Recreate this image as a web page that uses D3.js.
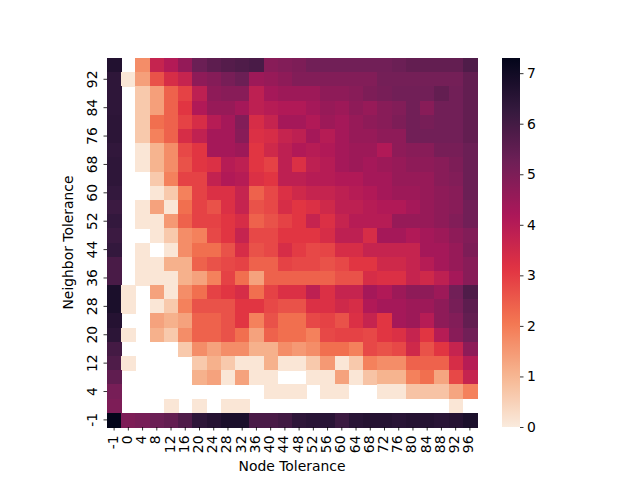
<!DOCTYPE html>
<html>
<head>
<meta charset="utf-8">
<script src="https://cdn.jsdelivr.net/npm/d3@7"></script>
<style>
    body { margin: 0; background: #fff; }
    text { font-family: "DejaVu Sans", sans-serif; fill: #000; }
</style>
</head>
<body>
<svg id="chart" width="640" height="480"></svg>
<script>
const nodeTolerance = [-1, 0, 4, 8, 12, 16, 20, 24, 28, 32, 36, 40, 44, 48, 52, 56, 60, 64, 68, 72, 76, 80, 84, 88, 92, 96];
// rows as drawn, top to bottom
const neighborRows = [96, 92, 88, 84, 80, 76, 72, 68, 64, 60, 56, 52, 48, 44, 40, 36, 32, 28, 24, 20, 16, 12, 8, 4, 0, -1];
const neighborTicks = [-1, 4, 12, 20, 28, 36, 44, 52, 60, 68, 76, 84, 92];
const colorTicks = [0, 1, 2, 3, 4, 5, 6, 7];

const N = null; // empty cell
const scores = [
    [6.65, N, 1.7, 3.7, 4.05, 4.6, 5.3, 5.55, 5.7, 5.8, 5.9, 4.8, 4.9, 5.0, 5.2, 5.2, 5.2, 5.2, 5.2, 5.2, 5.3, 5.45, 5.45, 5.45, 5.45, 5.8],
    [6.4, 0.1, 1.4, 2.65, 3.35, 3.7, 4.7, 4.85, 5.1, 5.3, 4.45, 4.55, 4.7, 4.9, 4.9, 4.9, 4.9, 4.9, 4.9, 5.15, 5.15, 5.15, 5.15, 5.15, 5.15, 5.45],
    [6.4, N, 0.65, 1.4, 2.4, 2.9, 3.85, 4.7, 4.8, 4.8, 3.85, 4.3, 4.45, 4.45, 4.45, 4.7, 4.7, 4.8, 5.0, 5.1, 5.2, 5.2, 5.2, 5.45, 5.2, 5.45],
    [6.4, N, 0.65, 1.4, 2.4, 3.1, 4.1, 4.55, 4.55, 4.3, 3.85, 4.0, 4.1, 4.1, 4.3, 4.55, 4.45, 4.7, 4.55, 4.8, 4.9, 5.2, 4.8, 5.2, 5.2, 5.45],
    [6.45, N, 0.65, 2.2, 2.4, 2.9, 3.35, 4.0, 4.3, 4.9, 3.35, 3.7, 4.3, 4.3, 4.1, 4.45, 4.3, 4.55, 4.7, 4.8, 5.0, 5.2, 5.1, 5.2, 5.2, 5.45],
    [6.45, N, 0.65, 1.9, 2.4, 3.35, 3.8, 4.3, 4.3, 4.8, 3.25, 3.35, 3.7, 3.85, 4.3, 4.0, 4.3, 4.55, 4.55, 4.7, 4.7, 5.2, 5.2, 5.2, 5.2, 5.45],
    [6.35, N, 0.1, 1.05, 1.7, 2.8, 3.1, 4.3, 4.3, 4.45, 3.1, 3.5, 3.85, 4.1, 4.0, 4.1, 4.3, 4.45, 4.45, 4.1, 4.7, 4.8, 4.8, 5.1, 5.1, 5.3],
    [6.4, N, 0.1, 1.05, 1.7, 2.65, 3.1, 3.25, 4.0, 3.85, 3.1, 2.9, 3.85, 3.25, 3.85, 4.0, 4.3, 4.45, 4.3, 4.45, 4.55, 4.7, 4.7, 4.8, 5.0, 5.3],
    [6.4, N, N, 0.65, 1.9, 2.9, 2.9, 3.75, 4.1, 4.0, 3.25, 3.1, 3.85, 3.85, 4.0, 4.0, 4.1, 4.1, 4.3, 4.3, 4.55, 4.55, 4.55, 4.8, 4.9, 5.3],
    [6.3, N, N, 0.1, 0.65, 1.9, 2.9, 3.25, 3.25, 3.7, 2.4, 2.8, 3.25, 3.5, 3.7, 3.7, 3.85, 4.0, 4.1, 4.3, 4.45, 4.45, 4.55, 4.7, 4.8, 5.3],
    [6.15, N, 0.1, 1.35, 0.1, 2.2, 2.9, 2.65, 3.25, 3.7, 2.65, 2.8, 3.35, 3.1, 3.25, 3.5, 3.85, 3.85, 4.0, 4.1, 4.1, 4.3, 4.55, 4.7, 4.8, 5.2],
    [6.3, N, 0.1, 0.1, 1.5, 2.4, 2.9, 2.9, 3.1, 3.35, 2.4, 2.65, 2.9, 3.1, 3.7, 3.25, 3.7, 4.0, 4.0, 4.0, 4.55, 4.55, 4.55, 4.7, 4.9, 5.2],
    [6.15, N, N, 0.1, 0.65, 1.7, 1.9, 2.8, 3.1, 3.7, 2.8, 2.8, 3.1, 3.1, 3.1, 3.35, 3.85, 3.85, 3.35, 4.3, 4.3, 4.1, 4.3, 4.45, 4.7, 4.9],
    [6.3, N, 0.1, N, 0.1, 1.7, 2.2, 2.2, 2.65, 3.35, 2.65, 2.8, 3.35, 3.0, 2.8, 2.85, 3.35, 3.35, 3.7, 3.7, 3.7, 3.7, 4.3, 4.3, 4.55, 5.0],
    [5.9, N, 0.1, 0.1, 1.1, 1.1, 2.4, 2.65, 2.8, 2.9, 2.4, 2.4, 2.9, 2.8, 2.8, 2.65, 2.8, 3.1, 3.1, 3.5, 3.5, 3.7, 4.0, 4.3, 4.55, 4.8],
    [5.9, N, 0.1, 0.1, 0.1, 1.1, 1.35, 1.9, 2.9, 2.2, 1.35, 2.4, 2.4, 2.4, 2.4, 2.4, 2.65, 2.65, 3.35, 3.25, 3.25, 3.7, 3.5, 3.85, 4.3, 4.8],
    [6.8, 0.1, N, 1.35, 0.1, 1.7, 2.2, 2.9, 3.1, 3.35, 2.2, 2.9, 3.25, 3.25, 3.85, 3.25, 3.7, 3.7, 4.3, 4.1, 4.45, 4.7, 4.7, 4.45, 5.2, 5.8],
    [6.8, 0.1, N, 0.1, 0.65, 1.9, 2.65, 2.65, 2.65, 3.1, 3.1, 2.8, 2.65, 2.65, 3.25, 3.25, 3.5, 3.35, 4.1, 4.3, 4.3, 4.45, 4.45, 4.7, 5.1, 5.55],
    [6.6, N, N, 1.35, 1.1, 1.35, 2.4, 2.4, 2.65, 3.1, 1.9, 2.65, 2.2, 2.2, 2.8, 2.9, 2.65, 3.25, 3.7, 3.1, 4.3, 4.45, 4.0, 4.7, 4.9, 5.45],
    [6.45, 0.1, N, 1.1, 0.65, 1.7, 2.4, 2.4, 2.65, 2.2, 1.35, 2.4, 2.2, 2.2, 1.9, 2.8, 2.9, 2.9, 2.8, 3.1, 3.25, 3.7, 3.1, 4.0, 4.8, 5.2],
    [6.0, N, N, N, N, 0.65, 1.7, 1.35, 1.7, 1.7, 1.1, 1.1, 1.7, 1.5, 1.7, 2.2, 2.2, 1.9, 2.8, 2.65, 2.8, 3.5, 2.65, 3.1, 3.7, 4.7],
    [5.8, 0.1, N, N, N, N, 0.65, 1.1, 0.65, 0.1, 0.1, 1.1, 0.1, 0.1, 0.65, 1.5, 0.1, 0.65, 1.9, 1.7, 1.7, 2.4, 2.4, 2.4, 3.35, 4.0],
    [5.5, N, N, N, N, N, 1.1, 1.35, 0.1, 1.35, 0.1, 0.1, N, N, 0.1, 0.1, 1.35, 0.1, 0.75, 1.05, 1.05, 1.9, 2.2, 1.3, 2.8, 3.7],
    [5.1, N, N, N, N, N, N, N, N, N, N, 0.1, 0.1, 0.1, N, 0.1, 0.1, N, N, 0.1, 0.1, 0.75, 0.75, 0.75, 1.3, 1.9],
    [5.0, N, N, N, 0.1, N, 0.1, N, 0.1, 0.1, N, N, N, N, N, N, N, N, N, N, N, N, N, N, 0.1, N],
    [7.3, 5.0, 5.1, 5.3, 5.45, 5.8, 6.4, 6.6, 6.8, 6.8, 5.9, 5.9, 6.05, 6.4, 6.5, 6.5, 6.15, 6.5, 6.6, 6.6, 6.5, 6.6, 6.6, 6.5, 6.6, 6.8],
];

// seaborn "rocket", dark to light
const rocket = d3.piecewise(d3.interpolateRgb, [
    "#03051a", "#35193e", "#701f57", "#ad1759",
    "#e13342", "#f37651", "#f6b48f", "#faebdd",
]);

const cells = [];
scores.forEach((row, i) => {
    row.forEach((v, j) => {
        if (v !== null)
            cells.push({ node: nodeTolerance[j], neighbor: neighborRows[i], value: v });
    });
});

const vmax = d3.max(cells, (d) => d.value);
const color = (v) => rocket(1 - v / vmax);

const plotLeft = 107, plotRight = 477, plotTop = 58, plotBottom = 427;

const svg = d3.select("#chart");

const x = d3.scaleBand().domain(nodeTolerance).range([plotLeft, plotRight]);
const y = d3.scaleBand().domain(neighborRows).range([plotTop, plotBottom]);

// cells
svg.append("g")
    .attr("shape-rendering", "crispEdges")
    .selectAll("rect")
    .data(cells)
    .join("rect")
    .attr("x", (d) => x(d.node))
    .attr("y", (d) => y(d.neighbor))
    .attr("width", x.bandwidth() + 0.5)
    .attr("height", y.bandwidth() + 0.5)
    .attr("fill", (d) => color(d.value));

// x axis
const xAxis = svg.append("g")
    .attr("transform", `translate(0,${plotBottom})`)
    .call(d3.axisBottom(x).tickSize(3.5).tickPadding(0));
xAxis.select(".domain").remove();
xAxis.selectAll(".tick line").attr("stroke", "#000").attr("stroke-width", 0.8);
xAxis.selectAll(".tick text")
    .attr("y", null)
    .attr("dy", null)
    .attr("transform", "translate(3.5,8.5) rotate(-90)")
    .attr("text-anchor", "end")
    .style("font-size", "13.9px");

// y axis
const yAxis = svg.append("g")
    .attr("transform", `translate(${plotLeft},0)`)
    .call(d3.axisLeft(y).tickValues(neighborTicks).tickSize(3.5).tickPadding(0));
yAxis.select(".domain").remove();
yAxis.selectAll(".tick line").attr("stroke", "#000").attr("stroke-width", 0.8);
yAxis.selectAll(".tick text")
    .attr("x", null)
    .attr("dy", null)
    .attr("transform", "translate(-10.5,0) rotate(-90)")
    .attr("text-anchor", "middle")
    .style("font-size", "13.9px");

svg.append("text")
    .attr("x", (plotLeft + plotRight) / 2)
    .attr("y", 471)
    .attr("text-anchor", "middle")
    .style("font-size", "13.9px")
    .text("Node Tolerance");

svg.append("text")
    .attr("transform", `translate(73,${(plotTop + plotBottom) / 2}) rotate(-90)`)
    .attr("text-anchor", "middle")
    .style("font-size", "13.9px")
    .text("Neighbor Tolerance");

// colorbar
const cbX = 502, cbW = 18;
const cScale = d3.scaleLinear().domain([0, vmax]).range([plotBottom, plotTop]);

const grad = svg.append("defs")
    .append("linearGradient")
    .attr("id", "cbar")
    .attr("x1", 0).attr("y1", 1)
    .attr("x2", 0).attr("y2", 0);
grad.selectAll("stop")
    .data(d3.range(0, 1.0001, 0.02))
    .join("stop")
    .attr("offset", (t) => t)
    .attr("stop-color", (t) => color(t * vmax));

svg.append("rect")
    .attr("x", cbX)
    .attr("y", plotTop)
    .attr("width", cbW)
    .attr("height", plotBottom - plotTop)
    .attr("fill", "url(#cbar)");

const cAxis = svg.append("g")
    .attr("transform", `translate(${cbX + cbW},0)`)
    .call(d3.axisRight(cScale).tickValues(colorTicks).tickSize(3.5).tickPadding(3.5));
cAxis.select(".domain").remove();
cAxis.selectAll(".tick line").attr("stroke", "#000").attr("stroke-width", 0.8);
cAxis.selectAll(".tick text").style("font-size", "13.9px");
</script>
</body>
</html>
